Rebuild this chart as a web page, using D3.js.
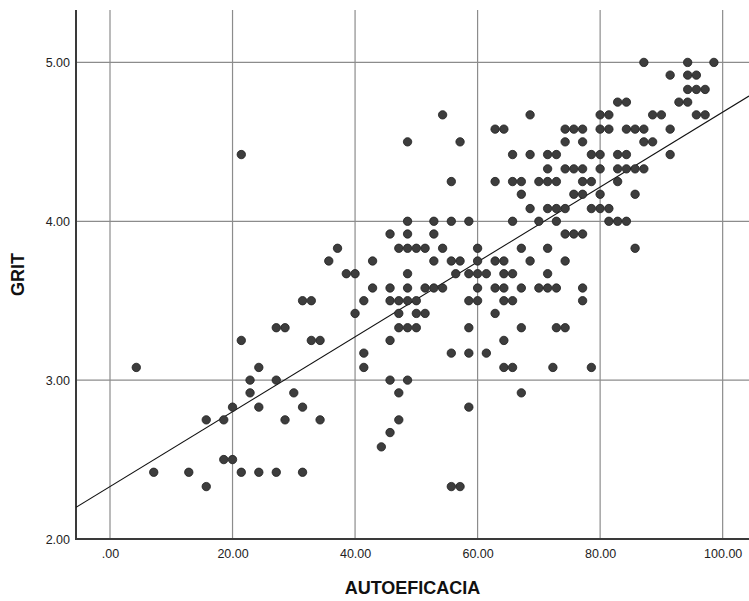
<!DOCTYPE html>
<html>
<head>
<meta charset="utf-8">
<script src="https://cdn.jsdelivr.net/npm/d3@7"></script>
<style>
  body { margin: 0; background: #fff; }
  text { font-family: "Liberation Sans", Arial, sans-serif; }
</style>
</head>
<body>
<div class="container"></div>
<script>
const width = 749;
const height = 601;

// GRIT levels (rows) and the AUTOEFICACIA values seen on each row
const gritLevels = [5.00, 4.92, 4.83, 4.75, 4.67, 4.58, 4.50, 4.42, 4.33, 4.25, 4.17,
    4.08, 4.00, 3.92, 3.83, 3.75, 3.67, 3.58, 3.50, 3.42, 3.33, 3.25, 3.17, 3.08,
    3.00, 2.92, 2.83, 2.75, 2.67, 2.58, 2.50, 2.42, 2.33];

const autoeficaciaByRow = [
    [87.14, 94.29, 98.57],
    [91.43, 94.29, 95.71],
    [94.29, 95.71, 97.14],
    [82.86, 84.29, 92.86, 94.29],
    [54.29, 68.57, 80.00, 81.43, 88.57, 90.00, 95.71, 97.14],
    [62.86, 64.29, 74.29, 75.71, 77.14, 80.00, 81.43, 84.29, 85.71, 87.14, 91.43],
    [48.57, 57.14, 74.29, 77.14, 87.14, 88.57],
    [21.43, 65.71, 68.57, 71.43, 72.86, 78.57, 80.00, 82.86, 84.29, 91.43],
    [71.43, 74.29, 75.71, 77.14, 80.00, 82.86, 84.29, 85.71, 87.14],
    [55.71, 62.86, 65.71, 67.14, 70.00, 71.43, 72.86, 77.14, 78.57, 82.86],
    [67.14, 75.71, 77.14, 80.00, 85.71],
    [68.57, 71.43, 72.86, 74.29, 78.57, 80.00, 81.43],
    [48.57, 52.86, 55.71, 58.57, 65.71, 70.00, 72.86, 81.43, 82.86, 84.29],
    [45.71, 48.57, 52.86, 74.29, 75.71, 77.14],
    [37.14, 47.14, 48.57, 50.00, 51.43, 54.29, 60.00, 67.14, 71.43, 85.71],
    [35.71, 42.86, 52.86, 55.71, 57.14, 60.00, 62.86, 64.29, 68.57, 74.29],
    [38.57, 40.00, 48.57, 56.43, 58.57, 60.00, 61.43, 64.29, 65.71, 71.43],
    [42.86, 45.71, 48.57, 51.43, 52.86, 54.29, 60.00, 62.86, 64.29, 67.14, 70.00, 71.43, 72.86, 77.14],
    [31.43, 32.86, 41.43, 45.71, 47.14, 48.57, 50.00, 58.57, 60.00, 64.29, 65.71, 77.14],
    [40.00, 47.14, 50.00, 51.43, 62.86],
    [27.14, 28.57, 47.14, 48.57, 50.00, 58.57, 67.14, 72.86, 74.29],
    [21.43, 32.86, 34.29, 45.71, 64.29],
    [41.43, 55.71, 58.57, 61.43],
    [4.29, 24.29, 41.43, 64.29, 65.71, 72.29, 78.57],
    [22.86, 27.14, 45.71, 48.57],
    [22.86, 30.00, 47.14, 67.14],
    [20.00, 24.29, 31.43, 58.57],
    [15.71, 18.57, 28.57, 34.29, 47.14],
    [45.71],
    [44.29],
    [18.57, 20.00],
    [7.14, 12.86, 21.43, 24.29, 27.14, 31.43],
    [15.71, 55.71, 57.14]
];

const xTicks = [0, 20, 40, 60, 80, 100];
const yTicks = [2, 3, 4, 5];

// fit line: GRIT = intercept + slope * AUTOEFICACIA
const fitIntercept = 2.33;
const fitSlope = 0.02357;

const points = [];
gritLevels.forEach((g, i) => {
    autoeficaciaByRow[i].forEach(a => points.push({ a: a, g: g }));
});

const plot = { left: 76, top: 10, right: 749, bottom: 539 };

const svg = d3.select('.container')
    .append('svg')
    .attr('width', width)
    .attr('height', height);

svg.append('rect')
    .attr('width', width)
    .attr('height', height)
    .attr('fill', '#fff');

const scaleX = d3.scaleLinear()
    .domain([-5.55, 104.3])
    .range([plot.left, plot.right]);

const scaleY = d3.scaleLinear()
    .domain([2, 5.33])
    .range([plot.bottom, plot.top]);

// grid lines
svg.append('g')
    .selectAll('line')
    .data(xTicks)
    .enter()
    .append('line')
    .attr('x1', d => scaleX(d))
    .attr('x2', d => scaleX(d))
    .attr('y1', plot.top)
    .attr('y2', plot.bottom)
    .attr('stroke', '#8c8c8c')
    .attr('stroke-width', 1.2);

svg.append('g')
    .selectAll('line')
    .data(yTicks.slice(1))
    .enter()
    .append('line')
    .attr('x1', plot.left)
    .attr('x2', plot.right)
    .attr('y1', d => scaleY(d))
    .attr('y2', d => scaleY(d))
    .attr('stroke', '#8c8c8c')
    .attr('stroke-width', 1.2);

// axes
const fmt = d => d3.format('.2f')(d).replace(/^0\./, '.');

const x_axis = d3.axisBottom(scaleX)
    .tickValues(xTicks)
    .tickFormat(fmt)
    .tickSize(0)
    .tickPadding(10);

const y_axis = d3.axisLeft(scaleY)
    .tickValues(yTicks)
    .tickFormat(fmt)
    .tickSize(0)
    .tickPadding(6);

const gx = svg.append('g')
    .attr('transform', `translate(0, ${plot.bottom})`)
    .call(x_axis);

const gy = svg.append('g')
    .attr('transform', `translate(${plot.left}, 0)`)
    .call(y_axis);

[gx, gy].forEach(g => {
    g.select('.domain').remove();
    g.selectAll('text')
        .attr('font-size', 12.5)
        .attr('fill', '#222');
});

svg.append('line')
    .attr('x1', plot.left).attr('x2', plot.left)
    .attr('y1', plot.top).attr('y2', plot.bottom + 1)
    .attr('stroke', '#3a3a3a')
    .attr('stroke-width', 2);

svg.append('line')
    .attr('x1', plot.left - 1).attr('x2', plot.right)
    .attr('y1', plot.bottom).attr('y2', plot.bottom)
    .attr('stroke', '#3a3a3a')
    .attr('stroke-width', 2);

// fit line
svg.append('clipPath')
    .attr('id', 'plot-clip')
    .append('rect')
    .attr('x', plot.left)
    .attr('y', plot.top)
    .attr('width', plot.right - plot.left)
    .attr('height', plot.bottom - plot.top);

const xd = scaleX.domain();
svg.append('line')
    .attr('clip-path', 'url(#plot-clip)')
    .attr('x1', scaleX(xd[0]))
    .attr('y1', scaleY(fitIntercept + fitSlope * xd[0]))
    .attr('x2', scaleX(xd[1]))
    .attr('y2', scaleY(fitIntercept + fitSlope * xd[1]))
    .attr('stroke', '#111')
    .attr('stroke-width', 1.1);

// points
svg.append('g')
    .selectAll('circle')
    .data(points)
    .enter()
    .append('circle')
    .attr('cx', d => scaleX(d.a))
    .attr('cy', d => scaleY(d.g))
    .attr('r', 4.2)
    .attr('fill', '#3d3d3d')
    .attr('stroke', '#1e1e1e')
    .attr('stroke-width', 0.8);

// axis titles
svg.append('text')
    .attr('x', (plot.left + plot.right) / 2)
    .attr('y', 594)
    .attr('text-anchor', 'middle')
    .attr('font-size', 18)
    .attr('font-weight', 'bold')
    .attr('fill', '#111')
    .text('AUTOEFICACIA');

svg.append('text')
    .attr('transform', `translate(24, ${(plot.top + plot.bottom) / 2}) rotate(-90)`)
    .attr('text-anchor', 'middle')
    .attr('font-size', 18)
    .attr('font-weight', 'bold')
    .attr('fill', '#111')
    .text('GRIT');
</script>
</body>
</html>
